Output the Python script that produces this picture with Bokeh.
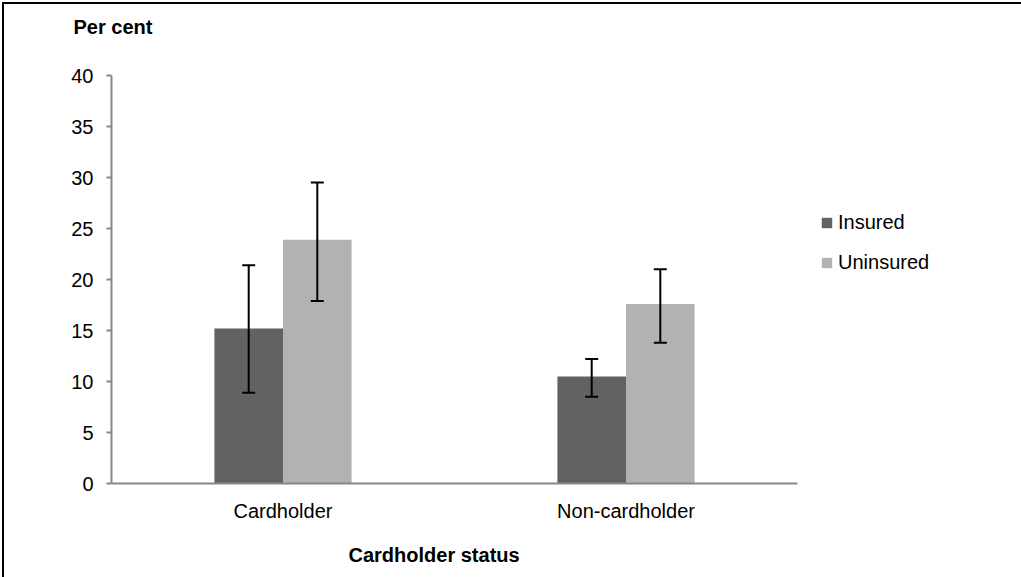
from bokeh.plotting import figure
from bokeh.models import (ColumnDataSource, FactorRange, Range1d, FixedTicker, Whisker,
                          TeeHead, Legend, LegendItem, Title)
from bokeh.transform import dodge
from bokeh.embed import file_html
from bokeh.resources import INLINE

categories = ["Cardholder", "Non-cardholder"]
series = ["Insured", "Uninsured"]
insured = [15.2, 10.5]
uninsured = [23.9, 17.6]
insured_lo = [8.9, 8.5]
insured_hi = [21.4, 12.2]
uninsured_lo = [17.9, 13.8]
uninsured_hi = [29.5, 21.0]
y_ticks = [0, 5, 10, 15, 20, 25, 30, 35, 40]
y_title = "Per cent"
x_title = "Cardholder status"

FONT = "Liberation Sans"
DARK = "#626262"
LIGHT = "#b2b2b2"
AXIS = "#878787"
FS = "20px"

src = ColumnDataSource(dict(cat=categories, ins=insured, unins=uninsured,
                            ins_lo=insured_lo, ins_hi=insured_hi,
                            un_lo=uninsured_lo, un_hi=uninsured_hi))

p = figure(x_range=FactorRange(*categories, range_padding=0), y_range=Range1d(0, 40),
           frame_width=686, frame_height=408,
           min_border_left=107, min_border_right=222, min_border_top=71, min_border_bottom=82,
           output_backend="svg", toolbar_location=None,
           styles={"margin-left": "2px", "margin-top": "2px",
                   "border-left": "2px solid black", "border-top": "2px solid black"})
p.outline_line_color = None
p.xgrid.grid_line_color = None
p.ygrid.grid_line_color = None

r1 = p.vbar(x=dodge("cat", -0.1, range=p.x_range), top="ins", width=0.2, source=src,
            fill_color=DARK, line_color=None)
r2 = p.vbar(x=dodge("cat", 0.1, range=p.x_range), top="unins", width=0.2, source=src,
            fill_color=LIGHT, line_color=None)

for off, lo, hi in [(-0.1, "ins_lo", "ins_hi"), (0.1, "un_lo", "un_hi")]:
    w = Whisker(source=src, base=dodge("cat", off, range=p.x_range), lower=lo, upper=hi,
                line_color="black", line_width=2, level="overlay",
                upper_head=TeeHead(size=13, line_width=2, line_color="black"),
                lower_head=TeeHead(size=13, line_width=2, line_color="black"))
    p.add_layout(w)

p.yaxis.ticker = FixedTicker(ticks=y_ticks)
p.yaxis.minor_tick_line_color = None
p.yaxis.major_tick_in = 0
p.yaxis.major_tick_out = 5
p.yaxis.major_tick_line_color = AXIS
p.yaxis.axis_line_color = AXIS
p.yaxis.axis_line_width = 2
p.yaxis.major_tick_line_width = 2
p.yaxis.major_label_standoff = 13
p.yaxis.major_label_text_font = FONT
p.yaxis.major_label_text_font_size = FS
p.yaxis.major_label_text_color = "black"

p.xaxis.major_tick_line_color = None
p.xaxis.minor_tick_line_color = None
p.xaxis.major_tick_in = 0
p.xaxis.major_tick_out = 0
p.xaxis.axis_line_color = AXIS
p.xaxis.axis_line_width = 2
p.xaxis.major_label_standoff = 16
p.xaxis.major_label_text_font = FONT
p.xaxis.major_label_text_font_size = FS
p.xaxis.major_label_text_color = "black"

legend = Legend(items=[LegendItem(label=series[0], renderers=[r1]),
                       LegendItem(label=series[1], renderers=[r2])],
                location=(23, 209), orientation="vertical",
                glyph_width=13, glyph_height=13, label_height=20, spacing=17,
                padding=0, margin=0, label_standoff=5,
                label_text_font=FONT, label_text_font_size=FS, label_text_color="black",
                border_line_color=None, background_fill_alpha=0)
p.add_layout(legend, "right")

# spacer title next to the frame, then the y-axis title above it
p.add_layout(Title(text=" ", standoff=14, text_font=FONT, text_font_size=FS), "above")
p.add_layout(Title(text=y_title, align="left", offset=-38, standoff=0,
                   text_font=FONT, text_font_size=FS, text_font_style="bold",
                   text_color="black"), "above")
p.add_layout(Title(text=x_title, align="left", offset=237, standoff=34,
                   text_font=FONT, text_font_size=FS, text_font_style="bold",
                   text_color="black"), "below")

open("out.html", "w").write(file_html(p, INLINE))
